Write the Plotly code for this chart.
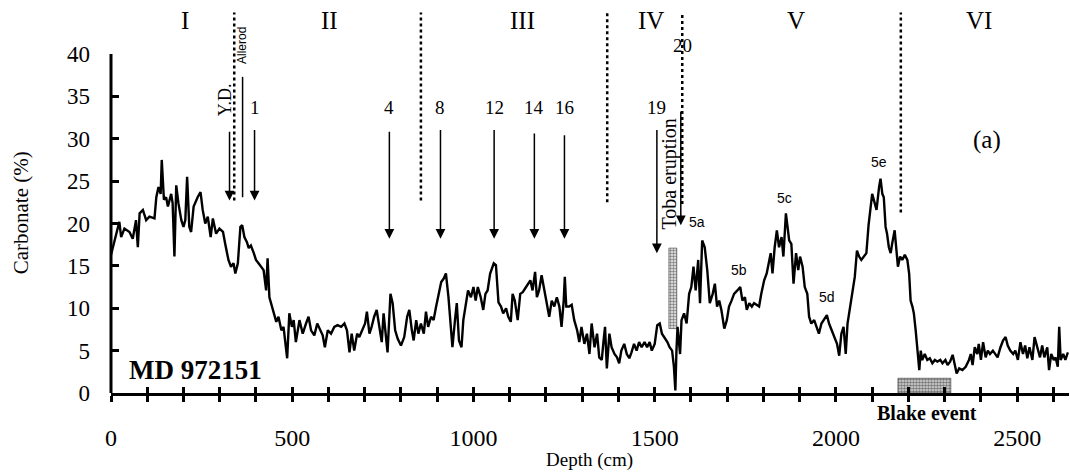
import plotly.graph_objects as go

# ---------------- data ----------------
depth_cm = [0, 10, 23, 28, 37, 51, 60, 69, 74, 79, 88, 97, 106, 120, 125, 131, 137, 140, 146, 152, 157, 166, 170, 175, 180, 186, 194, 200, 205, 210, 216, 221, 228, 239, 247, 253, 260, 267, 275, 281, 290, 299, 309, 315, 324, 331, 338, 343, 350, 357, 362, 368, 375, 380, 386, 394, 400, 407, 414, 421, 428, 432, 437, 442, 449, 456, 462, 470, 476, 486, 492, 499, 504,
            510, 520, 529, 538, 545, 552, 561, 569, 578, 584, 590, 598, 607, 616, 625, 635, 644, 651, 658, 664, 671, 679, 685, 694, 701, 706, 713, 719, 726, 733, 740, 747, 752, 758, 763, 771, 777, 784, 791, 800, 809, 817, 823, 830, 835, 842, 848, 855, 863, 869, 875, 883, 890, 896, 903, 911, 918, 924, 931, 936, 942, 949, 954, 960, 967, 972, 979, 985, 993, 1000, 1006, 1012, 1020, 1027, 1033,
            1039, 1046, 1056, 1062, 1069, 1076, 1082, 1090, 1096, 1103, 1108, 1114, 1122, 1129, 1136, 1142, 1152, 1157, 1163, 1170, 1175, 1181, 1188, 1195, 1203, 1209, 1216, 1223, 1230, 1237, 1243, 1249, 1252, 1256, 1264, 1271, 1278, 1286, 1292, 1298, 1306, 1313, 1320, 1326, 1334, 1341, 1347, 1354, 1359, 1363, 1368, 1375, 1381, 1389, 1396, 1402, 1408, 1416, 1423, 1430, 1436, 1443, 1450, 1457, 1464, 1472, 1479, 1486, 1492, 1500, 1507, 1514, 1520, 1527, 1535, 1541, 1548, 1553, 1557, 1560,
            1563, 1570, 1574, 1581, 1588, 1595, 1601, 1607, 1613, 1620, 1625, 1631, 1638, 1645, 1652, 1660, 1666, 1672, 1678, 1684, 1692, 1699, 1705, 1712, 1719, 1728, 1736, 1742, 1749, 1754, 1761, 1768, 1774, 1781, 1788, 1794, 1802, 1809, 1816, 1820, 1825, 1831, 1837, 1843, 1850, 1855, 1862, 1866, 1871, 1877, 1883, 1890, 1896, 1901, 1908, 1914, 1921, 1926, 1932, 1940, 1947, 1953, 1960, 1967, 1975, 1981, 1988, 1995, 2003, 2009, 2015, 2021, 2027, 2032, 2039, 2046, 2052, 2058, 2064, 2070, 2077,
            2084, 2090, 2095, 2100, 2107, 2112, 2119, 2123, 2128, 2132, 2137, 2141, 2146, 2151, 2155, 2162, 2167, 2171, 2177, 2183, 2190, 2197, 2202, 2206, 2211, 2215, 2220, 2225, 2230, 2234, 2238, 2245, 2252, 2259, 2266, 2273, 2280, 2288, 2294, 2302, 2308, 2315, 2322, 2327, 2333, 2340, 2349, 2358, 2367, 2372, 2377, 2383, 2390, 2394, 2400, 2406, 2413, 2419, 2425, 2433, 2440, 2446, 2454, 2461, 2468, 2474, 2481, 2489, 2495, 2502, 2509, 2516, 2522, 2528, 2534, 2542, 2548, 2556, 2563, 2569, 2575, 2583, 2588, 2594, 2601, 2606, 2612, 2616, 2620, 2627, 2633, 2640]
carbonate_pct = [16.3, 18.0, 20.2, 18.4, 19.4, 19.0, 18.2, 20.4, 17.2, 21.2, 21.6, 20.4, 20.8, 20.6, 23.1, 24.3, 23.5, 27.5, 22.8, 23.1, 22.0, 23.5, 22.4, 16.1, 24.5, 22.4, 20.4, 19.6, 20.4, 25.5, 19.6, 19.0, 22.0, 23.1, 23.7, 21.6, 20.0, 20.8, 18.4, 20.6, 18.8, 19.4, 19.0, 17.6, 15.7, 14.9, 15.3, 14.1, 15.3, 19.6, 19.8, 18.4, 17.8, 17.1, 17.4, 16.5, 15.7, 15.3, 14.9, 14.5, 12.1, 15.9, 11.3, 10.6, 9.4, 8.4, 9.0, 7.4, 7.8, 4.1, 9.4, 7.8, 8.6,
                 6.0, 8.6, 7.0, 8.2, 9.0, 7.4, 6.8, 8.2, 7.4, 6.8, 5.4, 7.4, 7.0, 7.8, 8.0, 7.8, 8.2, 7.4, 4.8, 7.0, 5.0, 7.0, 6.6, 7.6, 8.2, 9.6, 7.0, 7.8, 9.0, 9.8, 7.8, 6.0, 9.4, 7.0, 4.8, 11.7, 10.6, 7.4, 6.4, 5.6, 6.6, 9.0, 9.8, 7.4, 6.2, 8.6, 7.0, 8.2, 7.0, 9.6, 7.8, 9.0, 8.6, 10.0, 11.3, 13.1, 13.5, 14.1, 11.3, 9.0, 5.4, 8.6, 10.6, 6.2, 5.4, 8.6, 10.6, 12.1, 11.3, 12.5, 10.9, 12.5, 11.3, 9.8, 11.7,
                 12.1, 14.1, 15.3, 15.1, 10.7, 10.2, 9.4, 10.0, 9.0, 8.4, 11.7, 10.9, 8.6, 11.7, 11.9, 12.3, 12.9, 13.3, 12.1, 14.3, 11.3, 12.1, 13.9, 12.1, 10.2, 9.0, 10.9, 10.2, 11.3, 10.2, 7.8, 10.9, 13.7, 10.2, 10.2, 10.4, 8.6, 7.4, 6.0, 7.8, 5.8, 7.0, 4.6, 8.2, 5.4, 7.0, 4.2, 3.9, 6.2, 7.8, 2.9, 7.0, 5.4, 4.6, 4.2, 3.5, 5.0, 5.8, 4.6, 4.1, 4.8, 5.8, 5.0, 6.0, 5.4, 6.0, 5.4, 6.0, 5.0, 5.8, 8.0, 8.2, 7.0, 6.6, 6.0, 5.4, 5.0, 3.1, 0.3, 5.0,
                 7.8, 4.6, 8.6, 9.4, 8.2, 11.7, 12.5, 14.9, 12.1, 15.7, 10.6, 18.0, 17.2, 14.5, 10.6, 11.7, 12.9, 10.2, 10.9, 9.8, 7.6, 8.6, 10.2, 10.9, 11.7, 12.1, 12.5, 10.9, 11.3, 9.8, 10.6, 10.2, 10.6, 10.4, 10.2, 11.7, 13.3, 14.1, 15.7, 16.5, 14.1, 17.2, 19.2, 17.2, 18.4, 16.1, 21.2, 19.6, 18.0, 17.6, 12.9, 16.5, 14.5, 16.1, 14.9, 12.5, 11.7, 9.0, 8.2, 8.6, 7.8, 7.0, 8.2, 8.6, 9.2, 8.2, 7.4, 6.6, 5.8, 4.4, 7.0, 7.8, 4.6, 8.2, 10.2, 12.5, 13.7, 16.8, 16.1, 15.7, 16.1,
                 16.5, 19.8, 21.6, 23.5, 22.4, 21.6, 24.3, 25.3, 23.5, 23.1, 19.6, 18.8, 17.2, 16.5, 17.6, 19.2, 16.8, 14.9, 16.1, 15.7, 16.3, 15.7, 14.1, 10.9, 10.2, 9.4, 7.4, 4.6, 2.7, 5.0, 3.9, 4.6, 3.9, 4.1, 3.5, 3.9, 3.7, 3.9, 3.5, 3.9, 3.3, 3.7, 4.5, 3.5, 2.3, 2.9, 2.7, 3.1, 3.9, 4.6, 3.3, 5.4, 4.6, 5.8, 3.9, 6.0, 4.2, 5.0, 4.6, 5.0, 4.5, 4.2, 5.4, 6.2, 6.6, 5.6, 5.0, 4.6, 5.0, 3.9, 6.0, 4.6, 5.6, 4.1, 5.4, 3.9, 6.6, 5.4, 4.2, 5.6, 4.2, 5.4, 2.7, 4.6, 3.9, 4.2, 3.1, 7.8, 3.9, 4.6, 3.9, 4.8]

x_tick_values = list(range(0, 2700, 100))
x_tick_labels = [str(v) if v % 500 == 0 else "" for v in x_tick_values]
y_tick_values = [0, 5, 10, 15, 20, 25, 30, 35, 40]

zone_names = ["I", "II", "III", "IV", "V", "VI"]
zone_name_depth = [203, 602, 1134, 1490, 1891, 2395]
zone_name_level = 44.0
zone_bound_depth = [340, 855, 1369, 1576, 2179]
zone_bound_bottom = [22.7, 22.7, 22.5, 22.3, 21.3]
zone_bound_top = 44.9

event_names = ["1", "4", "8", "12", "14", "16", "19"]
event_depth = [396, 768, 909, 1057, 1168, 1251, 1506]
event_arrow_top = [31.2, 31.0, 31.2, 31.2, 30.8, 30.6, 31.2]
event_arrow_tip = [22.7, 18.2, 18.2, 18.2, 18.2, 18.2, 16.5]
event_label_level = 33.7

stage_names = ["5a", "5b", "5c", "5d", "5e"]
stage_depth = [1617, 1733, 1857, 1976, 2119]
stage_level = [20.2, 14.5, 23.0, 11.3, 27.2]

toba_depth, toba_width, toba_base, toba_height = 1550, 22, 7.6, 9.5
blake_depth, blake_width, blake_height = 2244, 146, 1.74

SERIF = "Liberation Serif"
X_MAX = 2643

# layout geometry: the labelled y axis floats a little left of the plotted area
W, H = 1070, 472
M_L, M_R, M_T, M_B = 90, 1, 54, 79
PLOT_LEFT_PX = 111
X_DOMAIN_START = (PLOT_LEFT_PX - M_L) / (W - M_L - M_R)

fig = go.Figure()

# hatched bars (Toba ash layer, Blake event)
fig.add_trace(go.Bar(x=[toba_depth], y=[toba_height], base=[toba_base], width=[toba_width],
                     marker=dict(color="white", line=dict(color="#444", width=0.6),
                                 pattern=dict(shape=".", fgcolor="#111", bgcolor="#eee", size=3, solidity=0.5)),
                     showlegend=False, hoverinfo="skip"))
fig.add_trace(go.Bar(x=[blake_depth], y=[blake_height], base=[0], width=[blake_width],
                     marker=dict(color="white", line=dict(color="#333", width=0.6),
                                 pattern=dict(shape=".", fgcolor="#111", bgcolor="#ddd", size=3, solidity=0.6)),
                     showlegend=False, hoverinfo="skip"))

fig.add_trace(go.Scatter(x=depth_cm, y=carbonate_pct, mode="lines",
                         line=dict(color="black", width=2.4), showlegend=False))

# dummy traces for the overlay axes (inner tick marks)
fig.add_trace(go.Scatter(x=[0], y=[0], xaxis="x2", yaxis="y", mode="markers", marker=dict(opacity=0),
                         showlegend=False, hoverinfo="skip"))
fig.add_trace(go.Scatter(x=[0], y=[0], xaxis="x", yaxis="y2", mode="markers", marker=dict(opacity=0),
                         showlegend=False, hoverinfo="skip"))

shapes = []
for d, b in zip(zone_bound_depth, zone_bound_bottom):
    shapes.append(dict(type="line", xref="x", yref="paper", x0=d, x1=d, y0=b / 40, y1=zone_bound_top / 40,
                       line=dict(color="black", width=2.5, dash="dot")))
# Allerod line
shapes.append(dict(type="line", xref="x", yref="y", x0=363, x1=363, y0=23.1, y1=37.3,
                   line=dict(color="black", width=1.5)))
# y axis line (ends at 40)
shapes.append(dict(type="line", xref="paper", yref="y", x0=X_DOMAIN_START, x1=X_DOMAIN_START, y0=0, y1=40,
                   line=dict(color="black", width=3)))


def label(x, y, text, size, xref="x", yref="y", angle=0, family=SERIF):
    return dict(x=x, y=y, xref=xref, yref=yref, text=text, textangle=angle, showarrow=False,
                xanchor="center", yanchor="middle",
                font=dict(family=family, size=size, color="black"))


def arrow(d, top, tip):
    return dict(x=d, y=tip, ax=d, ay=top, xref="x", yref="y", axref="x", ayref="y", text="",
                showarrow=True, arrowhead=2, arrowsize=1.3, arrowwidth=1.5, arrowcolor="black", standoff=0)


annotations = []
for name, d in zip(zone_names, zone_name_depth):
    annotations.append(label(d, zone_name_level / 40, name, 25, yref="paper"))

for name, d, top, tip in zip(event_names, event_depth, event_arrow_top, event_arrow_tip):
    annotations.append(arrow(d, top, tip))
    annotations.append(label(d, event_label_level, name, 19))
annotations.append(arrow(327, 31.0, 22.7))   # Y.D.
annotations.append(arrow(1572, 33.4, 19.8))  # 20 (Toba)

annotations += [
    label(313, 34.6, "Y.D.", 18, angle=-90),
    label(360, 41.0 / 40, "Allerod", 12, yref="paper", angle=-90,
          family="Liberation Sans Narrow, Liberation Sans"),
    label(1576, 41.0 / 40, "20", 19, yref="paper"),
    label(1540, 25.8, "Toba eruption", 20, angle=-90),
    label(2417, 29.8, "(a)", 25),
    label(232, 2.7, "<b>MD 972151</b>", 27),
    label(2251, -2.36 / 40, "<b>Blake event</b>", 20, yref="paper"),
    label(1320, -7.9 / 40, "Depth (cm)", 19, yref="paper"),
    label((21 - M_L) / (W - M_L - M_R), 0.53, "Carbonate (%)", 21, xref="paper", yref="paper", angle=-90),
]
for name, d, lv in zip(stage_names, stage_depth, stage_level):
    annotations.append(label(d, lv, name, 14, family="Liberation Sans"))

fig.update_layout(
    width=W, height=H,
    margin=dict(l=M_L, r=M_R, t=M_T, b=M_B),
    paper_bgcolor="white", plot_bgcolor="white",
    barmode="overlay",
    shapes=shapes, annotations=annotations,
    xaxis=dict(domain=[X_DOMAIN_START, 1], range=[0, X_MAX], tickvals=x_tick_values, ticktext=x_tick_labels,
               ticks="outside", ticklen=6, tickwidth=2.5, tickcolor="black",
               showline=True, linecolor="black", linewidth=3, showgrid=False, zeroline=False,
               ticklabelstandoff=15,
               tickfont=dict(family=SERIF, size=24, color="black")),
    xaxis2=dict(domain=[X_DOMAIN_START, 1], range=[0, X_MAX], overlaying="x", side="bottom", anchor="y",
                tickvals=x_tick_values, ticks="inside", ticklen=6, tickwidth=2.5, tickcolor="black",
                showticklabels=False, showline=False, showgrid=False, zeroline=False),
    # labelled y axis, placed at the left edge of the figure area, without line or ticks
    yaxis=dict(range=[0, 40], tickvals=y_tick_values, anchor="free", position=0,
               ticks="", showline=False, showgrid=False, zeroline=False,
               tickfont=dict(family=SERIF, size=23, color="black")),
    # overlay y axis at the plotted area's left edge: visible inner tick marks
    yaxis2=dict(range=[0, 40], overlaying="y", side="left", anchor="x", tickvals=y_tick_values,
                ticks="inside", ticklen=8, tickwidth=2.5, tickcolor="black",
                showticklabels=False, showline=False, showgrid=False, zeroline=False),
)

fig.write_html("out.html", config={"displayModeBar": False},
               post_script="document.body.style.margin='0';document.body.style.overflow='hidden';")
